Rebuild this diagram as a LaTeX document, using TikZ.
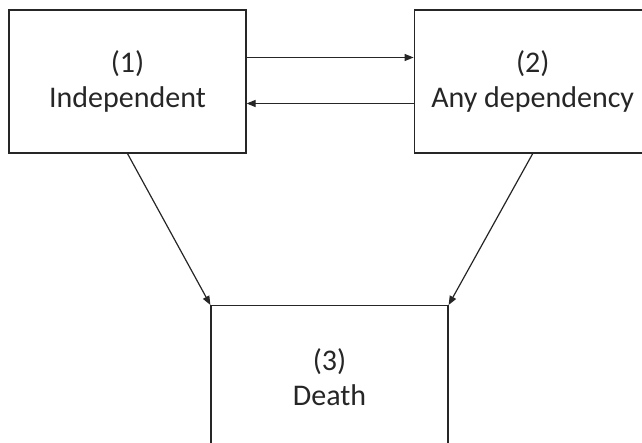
\documentclass[tikz,border=0pt]{standalone}
\usepackage{fontspec}
\setmainfont{Carlito}
\usetikzlibrary{arrows.meta, positioning}
\tikzset{
  box/.style={
    rectangle,
    draw,
    align=center,
    minimum width=237pt,
    minimum height=143pt,
    inner sep=0pt,
    font=\fontsize{30}{35}\selectfont
  },
  arrow/.style={-{Triangle[length=9pt, width=7pt]}, line width=1.2pt}
}
\begin{document}
\begin{tikzpicture}[line width=1.2pt, color=black!85]
\useasboundingbox (0,0) rectangle (642pt,-443pt);
\clip (0,0) rectangle (642pt,-443pt);
\node[box] (indep) at (127.5pt,-81.5pt) {(1)\\Independent};
\node[box, right=167pt of indep] (anydep) {(2)\\Any dependency};
\node[box, anchor=north] (death) at (329.5pt,-305pt) {(3)\\Death};

\draw[arrow] ([yshift=24pt]indep.east) -- ([yshift=24pt]anydep.west);
\draw[arrow] ([yshift=-22pt]anydep.west) -- ([yshift=-22pt]indep.east);
\draw[arrow] (indep.south) -- (death.north west);
\draw[arrow] (anydep.south) -- (death.north east);
\end{tikzpicture}
\end{document}
